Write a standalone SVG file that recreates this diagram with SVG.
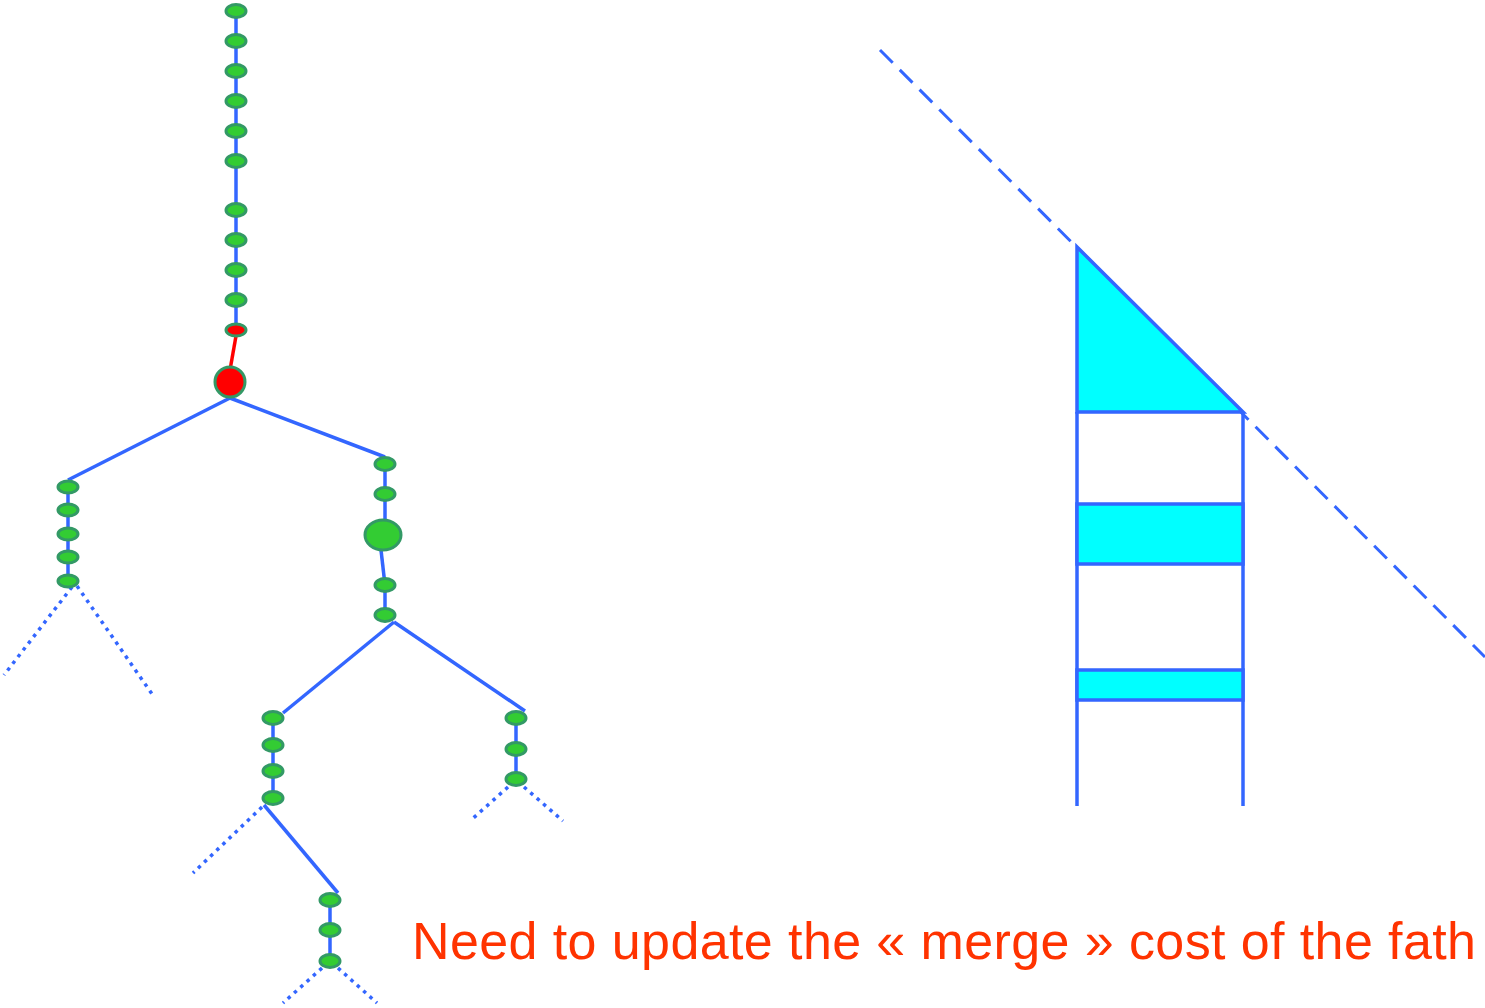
<svg xmlns="http://www.w3.org/2000/svg" width="1485" height="1008" viewBox="0 0 1485 1008">
  <style>
    .edge { stroke: #3366ff; stroke-width: 3.5; fill: none; }
    .dot { stroke: #3366ff; stroke-width: 3.5; fill: none; stroke-dasharray: 3.5 5; }
    .red { stroke: #ff0000; stroke-width: 3.5; fill: none; }
    .n { fill: #33cc33; stroke: #339966; stroke-width: 3; }
    .nr { fill: #ff0000; stroke: #339966; stroke-width: 3; }
    .cyan { fill: #00ffff; stroke: #3366ff; stroke-width: 3.5; }
    .bar { stroke: #3366ff; stroke-width: 3.5; fill: none; }
    .dash { stroke: #3366ff; stroke-width: 3; fill: none; stroke-dasharray: 18 10; }
    .label { font-family: "Liberation Sans", Arial, sans-serif; font-size: 52px; fill: #ff3300; }
  </style>

  <!-- tree connectors -->
  <g id="connectors">
    <line class="edge" x1="236" y1="11" x2="236" y2="330"/>
    <line class="red" x1="236" y1="336" x2="230" y2="370"/>
    <line class="edge" x1="230" y1="398" x2="68" y2="480"/>
    <line class="edge" x1="230" y1="398" x2="385" y2="457"/>
    <line class="edge" x1="68" y1="487" x2="68" y2="581"/>
    <line class="dot" x1="72" y1="587" x2="4" y2="675"/>
    <line class="dot" x1="77" y1="586" x2="152" y2="694"/>
    <line class="edge" x1="385" y1="464" x2="385" y2="520"/>
    <line class="edge" x1="381" y1="550" x2="385" y2="585"/>
    <line class="edge" x1="385" y1="585" x2="385" y2="615"/>
    <line class="edge" x1="394" y1="622" x2="283" y2="713"/>
    <line class="edge" x1="394" y1="622" x2="525" y2="711"/>
    <line class="edge" x1="273" y1="718" x2="273" y2="798"/>
    <line class="dot" x1="262" y1="807" x2="193" y2="873"/>
    <line class="edge" x1="264" y1="805" x2="338" y2="893"/>
    <line class="edge" x1="330" y1="900" x2="330" y2="961"/>
    <line class="dot" x1="322" y1="968" x2="283" y2="1003"/>
    <line class="dot" x1="338" y1="968" x2="377" y2="1003"/>
    <line class="edge" x1="516" y1="718" x2="516" y2="779"/>
    <line class="dot" x1="508" y1="787" x2="470" y2="821"/>
    <line class="dot" x1="524" y1="787" x2="563" y2="821"/>
  </g>

  <!-- main trunk -->
  <g id="trunk">
    <ellipse class="n" cx="236" cy="11" rx="10" ry="6.5"/>
    <ellipse class="n" cx="236" cy="41" rx="10" ry="6.5"/>
    <ellipse class="n" cx="236" cy="71" rx="10" ry="6.5"/>
    <ellipse class="n" cx="236" cy="101" rx="10" ry="6.5"/>
    <ellipse class="n" cx="236" cy="131" rx="10" ry="6.5"/>
    <ellipse class="n" cx="236" cy="161" rx="10" ry="6.5"/>
    <ellipse class="n" cx="236" cy="210" rx="10" ry="6.5"/>
    <ellipse class="n" cx="236" cy="240" rx="10" ry="6.5"/>
    <ellipse class="n" cx="236" cy="270" rx="10" ry="6.5"/>
    <ellipse class="n" cx="236" cy="300" rx="10" ry="6.5"/>
    <ellipse class="nr" cx="236" cy="330" rx="10" ry="6"/>
  </g>

  <g id="father">
    <circle class="nr" cx="230" cy="382" r="15"/>
  </g>

  <g id="left-branch">
    <ellipse class="n" cx="68" cy="487" rx="10" ry="6"/>
    <ellipse class="n" cx="68" cy="510" rx="10" ry="6"/>
    <ellipse class="n" cx="68" cy="534" rx="10" ry="6"/>
    <ellipse class="n" cx="68" cy="557" rx="10" ry="6"/>
    <ellipse class="n" cx="68" cy="581" rx="10" ry="6"/>
  </g>

  <g id="right-branch">
    <ellipse class="n" cx="385" cy="464" rx="10" ry="6.5"/>
    <ellipse class="n" cx="385" cy="494" rx="10" ry="6.5"/>
    <ellipse class="n" cx="383" cy="535" rx="18" ry="15"/>
    <ellipse class="n" cx="385" cy="585" rx="10" ry="6.5"/>
    <ellipse class="n" cx="385" cy="615" rx="10" ry="6.5"/>
  </g>

  <g id="lower-left-branch">
    <ellipse class="n" cx="273" cy="718" rx="10" ry="6.5"/>
    <ellipse class="n" cx="273" cy="745" rx="10" ry="6.5"/>
    <ellipse class="n" cx="273" cy="771" rx="10" ry="6.5"/>
    <ellipse class="n" cx="273" cy="798" rx="10" ry="6.5"/>
  </g>

  <g id="bottom-branch">
    <ellipse class="n" cx="330" cy="900" rx="10" ry="6.5"/>
    <ellipse class="n" cx="330" cy="930" rx="10" ry="6.5"/>
    <ellipse class="n" cx="330" cy="961" rx="10" ry="6.5"/>
  </g>

  <g id="lower-right-branch">
    <ellipse class="n" cx="516" cy="718" rx="10" ry="6.5"/>
    <ellipse class="n" cx="516" cy="749" rx="10" ry="6.5"/>
    <ellipse class="n" cx="516" cy="779" rx="10" ry="6.5"/>
  </g>

  <!-- stack figure -->
  <g id="stack">
    <line class="dash" x1="880" y1="50" x2="1485" y2="657"/>
    <polygon class="cyan" points="1077,247 1077,412 1243,412"/>
    <line class="bar" x1="1077" y1="412" x2="1077" y2="806"/>
    <line class="bar" x1="1243" y1="412" x2="1243" y2="806"/>
    <rect class="cyan" x="1077" y="504" width="166" height="60"/>
    <rect class="cyan" x="1077" y="670" width="166" height="30"/>
  </g>

  <g id="caption">
    <text class="label" x="412" y="959" textLength="1064" lengthAdjust="spacing">Need to update the « merge » cost of the fath</text>
  </g>
</svg>
